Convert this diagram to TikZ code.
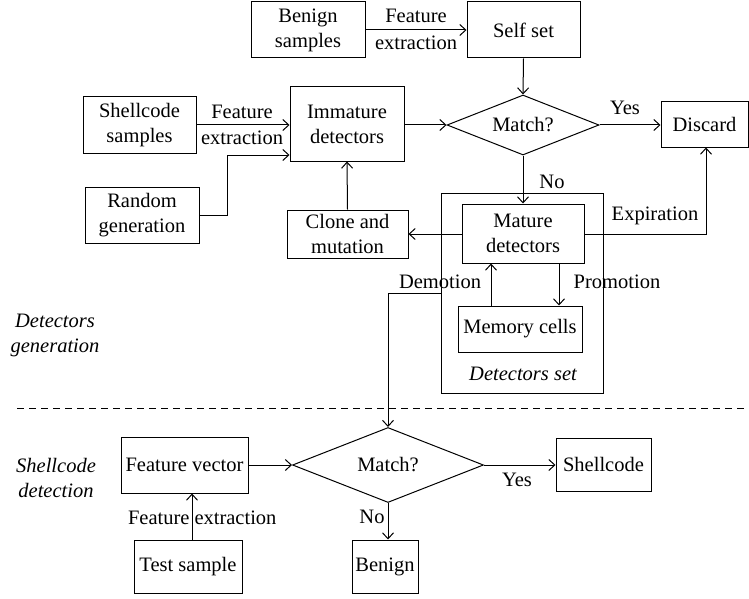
\documentclass[tikz,border=0pt]{standalone}
\usepackage{fontspec}
\setmainfont{Liberation Serif}
\usetikzlibrary{arrows.meta,shapes.geometric}
\begin{document}
\begin{tikzpicture}[x=1pt,y=-1pt,
  font=\fontsize{20.5}{25}\selectfont,
  line width=1pt,
  box/.style={draw,align=center,inner sep=0pt},
  dia/.style={draw,shape=diamond,inner sep=0pt},
  arr/.style={-{Straight Barb[length=6pt,width=11pt]}},
  lbl/.style={inner sep=0pt,align=center},
  itl/.style={lbl,font=\fontsize{20.5}{25}\selectfont\itshape}]
\useasboundingbox (0,0) rectangle (749,599);
% top part
\node[box,minimum width=114pt,minimum height=56pt] (benign) at (308,30) {Benign\\samples};
\node[box,minimum width=113pt,minimum height=56pt] (selfset) at (523.5,30) {Self set};
\node[box,minimum width=113pt,minimum height=57pt] (shell) at (139.5,125) {Shellcode\\samples};
\node[box,minimum width=114pt,minimum height=74pt] (immature) at (347,124) {Immature\\detectors};
\node[box,minimum width=114pt,minimum height=56pt] (random) at (142,215) {Random\\generation};
\node[box,minimum width=121pt,minimum height=48pt] (clone) at (347.5,234) {Clone and\\mutation};
\node[dia,aspect=2.53,minimum width=152pt,minimum height=60pt] (match1) at (523,125) {Match?};
\node[box,minimum width=87pt,minimum height=45pt] (discard) at (704.5,124.5) {Discard};
\node[box,minimum width=162pt,minimum height=200pt] (detset) at (522,293) {};
\node[box,minimum width=122pt,minimum height=59pt] (mature) at (523,233.5) {Mature\\detectors};
\node[box,minimum width=124pt,minimum height=46pt] (memory) at (520,329) {Memory cells};
\node[itl] (detsetlbl) at (523,374) {Detectors set};
% bottom part
\node[box,minimum width=127pt,minimum height=56pt] (featvec) at (184.5,465) {Feature vector};
\node[dia,aspect=2.55,minimum width=191pt,minimum height=75pt] (match2) at (388,465) {Match?};
\node[box,minimum width=95pt,minimum height=53pt] (shellout) at (603.5,464.5) {Shellcode};
\node[box,minimum width=66pt,minimum height=53pt] (benign2) at (385,566.5) {Benign};
\node[box,minimum width=108pt,minimum height=53pt] (test) at (188,566.5) {Test sample};
% side labels
\node[itl] (gen) at (55,335) {Detectors\\generation};
\node[itl] (det) at (56,478) {Shellcode\\detection};
\coordinate (dashL) at (17,408);
\coordinate (dashR) at (749,408);
\draw[dashed,dash pattern=on 7pt off 5pt] (dashL) -- (dashR);
% connectors
\draw[arr] (benign.east) -- (selfset.west);
\node[lbl] (fe1a) at (416,16) {Feature};
\node[lbl] (fe1b) at (416,43) {extraction};
\draw[arr] (shell.east) -- (shell.east -| immature.west);
\node[lbl] (fe2a) at (242,112) {Feature};
\node[lbl] (fe2b) at (242,138) {extraction};
\coordinate (rbend) at (227,215);
\coordinate (rin) at (immature.west |- 0,155);
\draw[arr] (random.east |- rbend) -- (rbend) |- (rin);
\draw[arr] (clone.north) -- (immature.south);
\draw[arr] (immature.east |- match1.west) -- (match1.west);
\draw[arr] (selfset.south) -- (match1.north);
\draw[arr] (match1.east) -- (discard.west |- match1.east);
\node[lbl] (yes1) at (625,108) {Yes};
\draw[arr] (match1.south) -- (mature.north);
\node[lbl] (no1) at (552,182) {No};
\coordinate (mrow) at (0,234);
\draw[arr] (mature.west |- mrow) -- (clone.east |- mrow);
\coordinate (expc) at (706,234);
\draw[arr] (mature.east |- mrow) -- (expc) -- (expc |- discard.south);
\node[lbl] (expl) at (655,216) {Expiration};
\coordinate (upx) at (491,0);
\coordinate (downx) at (559,0);
\draw[arr] (memory.north -| upx) -- (mature.south -| upx);
\draw[arr] (mature.south -| downx) -- (memory.north -| downx);
\node[lbl] (prom) at (617,282) {Promotion};
\node[lbl] (demo) at (440,282) {Demotion};
\draw[arr] (detset.west) -| (match2.north);
\draw[arr] (featvec.east) -- (match2.west);
\draw[arr] (match2.east) -- (shellout.west |- match2.east);
\node[lbl] (yes2) at (517,480) {Yes};
\draw[arr] (match2.south) -- (benign2.north -| match2.south);
\node[lbl] (no2) at (372,517) {No};
\coordinate (tx) at (192,0);
\draw[arr] (test.north -| tx) -- (featvec.south -| tx);
\node[lbl,anchor=east] (fe3a) at (190,518) {Feature};
\node[lbl,anchor=west] (fe3b) at (194,518) {extraction};
\end{tikzpicture}
\end{document}
